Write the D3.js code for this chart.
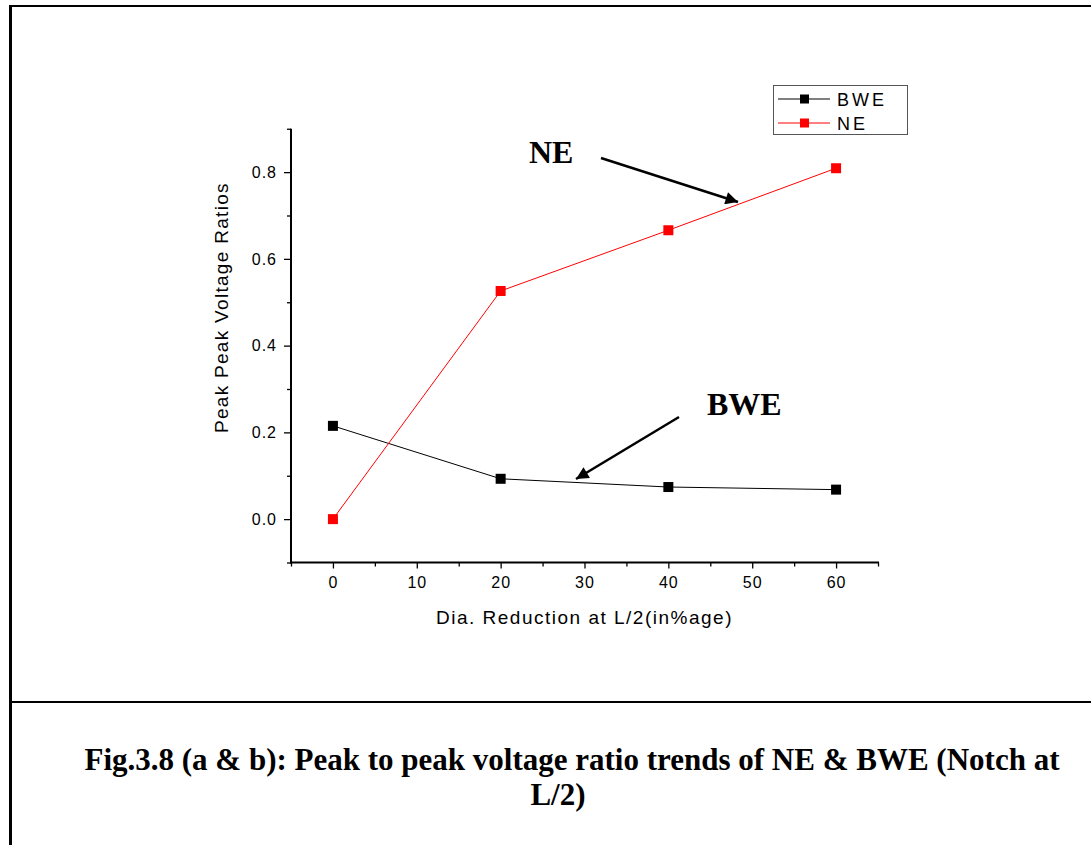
<!DOCTYPE html>
<html><head><meta charset="utf-8">
<script src="https://cdn.jsdelivr.net/npm/d3@7"></script>
<style>body{margin:0;background:#fff}svg{display:block}</style>
</head><body>
<script>
const xValues = [0, 20, 40, 60];
const bweValues = [0.215, 0.093, 0.074, 0.068];
const neValues = [0.0, 0.526, 0.666, 0.809];
const xTicks = [0, 10, 20, 30, 40, 50, 60];
const yTicks = [0.0, 0.2, 0.4, 0.6, 0.8];
const seriesNames = ["BWE", "NE"];
const seriesColors = ["#000000", "#ff0000"];
const caption1 = "Fig.3.8 (a & b): Peak to peak voltage ratio trends of NE & BWE (Notch at";
const caption2 = "L/2)";

const W = 1091, H = 845;
const svg = d3.select("body").append("svg").attr("width", W).attr("height", H);

// frame
svg.append("line").attr("x1",10).attr("x2",W).attr("y1",6).attr("y2",6).attr("stroke","#000").attr("stroke-width",2);
svg.append("line").attr("x1",10.5).attr("x2",10.5).attr("y1",5).attr("y2",H).attr("stroke","#000").attr("stroke-width",3);
svg.append("line").attr("x1",10).attr("x2",W).attr("y1",702).attr("y2",702).attr("stroke","#000").attr("stroke-width",2);

const x = d3.scaleLinear().domain([-5, 65]).range([291, 878]);
const y = d3.scaleLinear().domain([-0.1, 0.9]).range([562.5, 128.75]);

const sans = "Arial, 'Liberation Sans', sans-serif";
const serif = "'Times New Roman', 'Liberation Serif', serif";

// axes
svg.append("g").attr("class","ax").attr("transform", `translate(0,${y(-0.1)})`)
  .call(d3.axisBottom(x).tickValues(xTicks).tickFormat(d3.format("d")).tickSize(6).tickPadding(8));
svg.append("g").attr("class","ax").attr("transform", `translate(${x(-5)},0)`)
  .call(d3.axisLeft(y).tickValues(yTicks).tickFormat(d3.format(".1f")).tickSize(7).tickPadding(7));
// minor ticks
svg.append("g").attr("transform", `translate(0,${y(-0.1)})`)
  .call(d3.axisBottom(x).tickValues([-5,5,15,25,35,45,55,65]).tickFormat("").tickSize(4));
svg.append("g").attr("transform", `translate(${x(-5)},0)`)
  .call(d3.axisLeft(y).tickValues([-0.1,0.1,0.3,0.5,0.7,0.9]).tickFormat("").tickSize(4));
svg.selectAll(".domain").remove();
svg.selectAll(".tick line").attr("stroke","#000").attr("stroke-width",1.3);
svg.selectAll(".tick text").attr("font-family",sans).attr("font-size",16)
  .attr("letter-spacing","1px").attr("fill","#000");
svg.append("line").attr("x1",x(-5)-1).attr("x2",x(65)+1).attr("y1",y(-0.1)).attr("y2",y(-0.1)).attr("stroke","#000").attr("stroke-width",2);
svg.append("line").attr("x1",x(-5)).attr("x2",x(-5)).attr("y1",y(0.9)).attr("y2",y(-0.1)+1).attr("stroke","#000").attr("stroke-width",2);

// axis labels
svg.append("text").attr("x",(x(-5)+x(65))/2).attr("y",624).attr("text-anchor","middle")
  .attr("font-family",sans).attr("font-size",19).attr("letter-spacing","1.5px").text("Dia. Reduction at L/2(in%age)");
svg.append("text").attr("transform",`translate(228,${y(0.4)-38}) rotate(-90)`).attr("text-anchor","middle")
  .attr("font-family",sans).attr("font-size",19).attr("letter-spacing","1.3px").text("Peak Peak Voltage Ratios");

// series
const series = [bweValues, neValues];
const line = d3.line().x((d,i)=>x(xValues[i])).y(d=>y(d));
series.forEach((vals,k)=>{
  svg.append("path").datum(vals).attr("d",line).attr("fill","none")
    .attr("stroke",seriesColors[k]).attr("stroke-width",1);
  svg.selectAll(null).data(vals).enter().append("rect")
    .attr("x",(d,i)=>x(xValues[i])-5).attr("y",d=>y(d)-5).attr("width",10).attr("height",10)
    .attr("fill",seriesColors[k]);
});

// legend
const lg = svg.append("g");
lg.append("rect").attr("x",773.5).attr("y",85.5).attr("width",134).attr("height",49)
  .attr("fill","#fff").attr("stroke","#555").attr("stroke-width",1);
seriesNames.forEach((n,k)=>{
  const yy = 99 + k*24;
  lg.append("line").attr("x1",778).attr("x2",830).attr("y1",yy).attr("y2",yy).attr("stroke",seriesColors[k]).attr("stroke-width",1);
  lg.append("rect").attr("x",800).attr("y",yy-4.5).attr("width",9).attr("height",9).attr("fill",seriesColors[k]);
  lg.append("text").attr("x",837).attr("y",yy+6.5).attr("font-family",sans).attr("font-size",18)
    .attr("letter-spacing","3px").text(n);
});

// annotations
svg.append("defs").append("marker").attr("id","ah").attr("viewBox","0 0 10 10").attr("refX",10).attr("refY",5)
  .attr("markerWidth",6).attr("markerHeight",5).attr("markerUnits","strokeWidth").attr("orient","auto")
  .append("path").attr("d","M0,0 L10,5 L0,10 Z").attr("fill","#000");
svg.append("line").attr("x1",601).attr("y1",158).attr("x2",738).attr("y2",202)
  .attr("stroke","#000").attr("stroke-width",2.5).attr("marker-end","url(#ah)");
svg.append("line").attr("x1",679).attr("y1",417).attr("x2",576).attr("y2",479)
  .attr("stroke","#000").attr("stroke-width",2.5).attr("marker-end","url(#ah)");
svg.append("text").attr("x",529).attr("y",163).attr("font-family",serif).attr("font-weight","bold").attr("font-size",32).text("NE");
svg.append("text").attr("x",707).attr("y",415).attr("font-family",serif).attr("font-weight","bold").attr("font-size",32).text("BWE");

// caption
svg.append("text").attr("x",572).attr("y",770).attr("text-anchor","middle").attr("font-family",serif)
  .attr("font-weight","bold").attr("font-size",31).text(caption1);
svg.append("text").attr("x",558).attr("y",805).attr("text-anchor","middle").attr("font-family",serif)
  .attr("font-weight","bold").attr("font-size",31).text(caption2);
</script>
</body></html>
